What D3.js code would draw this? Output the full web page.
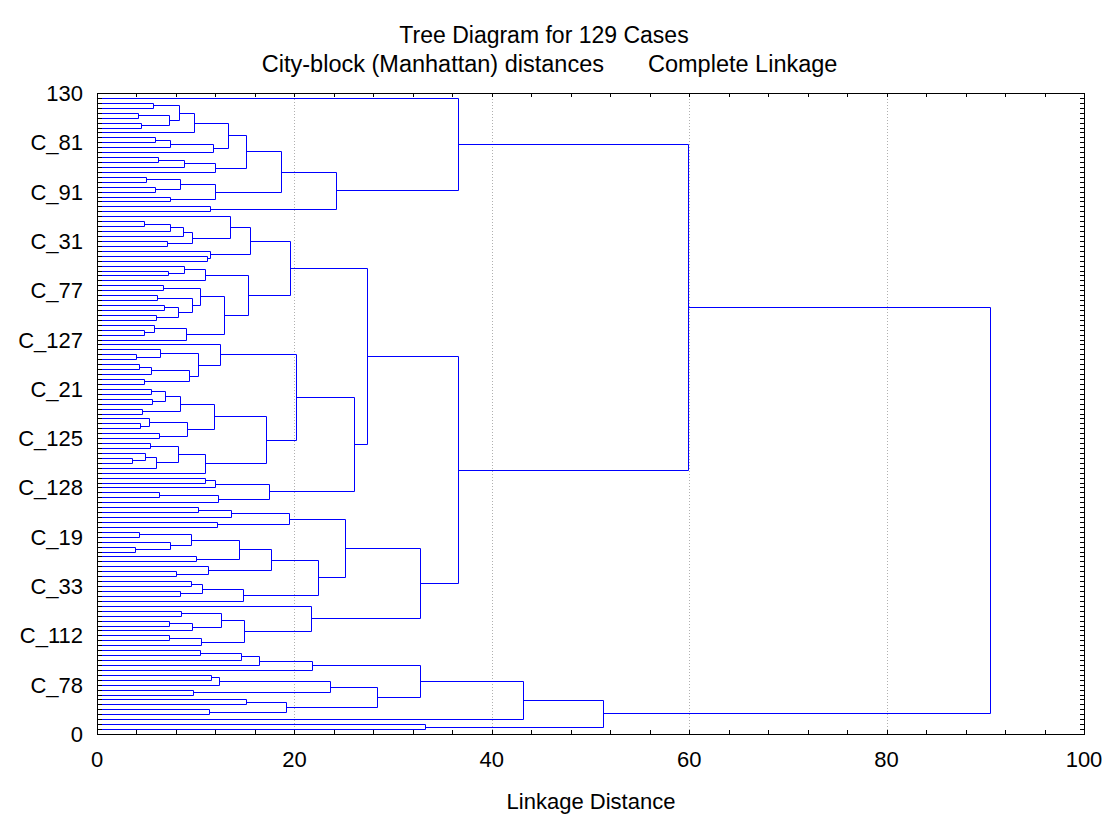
<!DOCTYPE html>
<html><head><meta charset="utf-8">
<script src="https://cdn.jsdelivr.net/npm/d3@7"></script>
<style>
body{margin:0;background:#fff}
text{font-family:Arial,"Liberation Sans",sans-serif;fill:#000}
</style>
</head><body>
<svg id="chart" width="1105" height="817"></svg>
<script>
// ---------- texts ----------
const titleText = "Tree Diagram for 129 Cases";
const subtitleLeft = "City-block (Manhattan) distances";
const subtitleRight = "Complete Linkage";
const xAxisTitle = "Linkage Distance";

// ---------- axes ----------
const xTickValues = [0, 20, 40, 60, 80, 100];
const yTickValues = [0, 10, 20, 30, 40, 50, 60, 70, 80, 90, 100, 110, 120, 130];
const yTickLabels = ["0", "C_78", "C_112", "C_33", "C_19", "C_128", "C_125", "C_21",
                     "C_127", "C_77", "C_31", "C_91", "C_81", "130"];

// ---------- dendrogram (linkage distances) ----------
// node = [linkage distance, upper branch, lower branch]; 0 = a single case
const clusterTop = [36.6, 0, [24.24,
  [18.6,
    [15.09,
      [13.27,
        [9.86, [8.34, [5.67, 0, 0], [7.26, [4.15, 0, 0], [4.49, 0, 0]]], 0],
        [11.75, [7.42, [5.84, 0, 0], 0], 0]],
      [11.98, [8.77, [6.18, 0, 0], 0], 0]],
    [11.91, [8.44, [4.99, 0, 0], [5.9, 0, 0]], [7.36, 0, 0]]],
  [11.41, 0, 0]]];

const clusterB1 = [15.46,
  [13.43, 0, [9.58, [8.71, [7.42, [4.72, 0, 0], 0], 0], [7.09, 0, 0]]],
  [11.48, 0, [11.1, 0, 0]]];
const clusterB2 = [15.26,
  [10.97, [8.81, 0, [7.15, 0, 0]], 0],
  [12.89,
    [10.4, [6.65, 0, 0], [9.58, [6.07, 0, 0], [8.2, [6.75, 0, 0], [6.01, 0, 0]]]],
    [9.04, [5.74, 0, [4.79, 0, 0]], 0]]];

const clusterC1 = [12.49, 0, [10.23, [6.34, 0, [3.95, 0, 0]],
  [9.28, [5.47, [4.28, 0, 0], 0], [4.79, 0, 0]]]];
const clusterC2 = [11.85,
  [8.37, [6.92, [5.43, 0, 0], [5.53, 0, 0]], [4.59, 0, 0]],
  [9.11, [5.23, 0, [4.39, 0, 0]], [6.24, 0, 0]]];
const clusterC3 = [10.9, [8.2, [5.4, 0, 0], [5.97, [4.82, 0, [3.54, 0, 0]], 0]], 0];
const clusterC4 = [17.42, [11.98, [10.9, 0, 0], 0], [12.25, [6.31, 0, 0], 0]];

const clusterD1 = [19.44, [13.57, [10.23, 0, 0], 0], [12.15, 0, 0]];
const clusterD2 = [17.59,
  [14.35, [9.55, [4.22, 0, 0], [7.42, 0, [3.81, 0, 0]]], [10.06, 0, 0]],
  [11.24, 0, [8.0, 0, 0]]];
const clusterD3 = [14.75, [10.63, [9.55, 0, 0], [8.44, 0, 0]], 0];
const clusterD4 = [21.71, 0, [14.85,
  [12.59, [8.54, 0, 0], [9.62, [7.26, 0, 0], 0]],
  [10.56, [7.26, 0, 0], 0]]];

const clusterE1 = [21.77, [16.37, [14.58, [10.4, 0, 0], 0], 0], 0];
const clusterE2 = [28.39,
  [23.56, [12.32, [11.58, 0, 0], 0], [9.72, 0, 0]],
  [19.11, [15.05, 0, 0], [11.31, 0, 0]]];

// upper level merges
const mergeB = [19.58, clusterB1, clusterB2];
const mergeC = [25.99, [20.19, clusterC1, [17.15, clusterC2, clusterC3]], clusterC4];
const mergeD = [32.75, [25.08, clusterD1, [22.35, clusterD2, clusterD3]], clusterD4];
const mergeA = [59.9, clusterTop, [36.6, [27.38, mergeB, mergeC], mergeD]];
const mergeE = [51.28, [43.18, [32.75, clusterE1, clusterE2], 0], [33.25, 0, 0]];
const treeRoot = [90.48, mergeA, mergeE];

// ---------- layout ----------
const svg = d3.select("#chart");
const plot = {left: 97, right: 1084, top: 93, bottom: 734};
const x = d3.scaleLinear().domain([0, 100]).range([plot.left, plot.right]);
const y = d3.scaleLinear().domain([0, 130]).range([plot.bottom, plot.top]);

// grid lines
svg.append("g").selectAll("line").data(xTickValues.filter(v => v > 0 && v < 100)).join("line")
  .attr("x1", d => Math.round(x(d)) + 0.5).attr("x2", d => Math.round(x(d)) + 0.5)
  .attr("y1", plot.top).attr("y2", plot.bottom)
  .attr("stroke", "#b0b0b0").attr("stroke-dasharray", "1,2").attr("stroke-width", 1);

// hierarchy
const root = d3.hierarchy(treeRoot, d => Array.isArray(d) ? d.slice(1) : null);
const leaves = root.leaves();
const nLeaves = leaves.length;
leaves.forEach((l, i) => { l.pos = nLeaves - i; });
root.eachAfter(n => {
  n.h = Array.isArray(n.data) ? n.data[0] : 0;
  if (n.children) n.pos = d3.mean(n.children, c => c.pos);
});

const px = v => Math.round(x(v)) + 0.5;
const py = v => Math.round(y(v)) + 0.5;
let path = "";
root.each(n => {
  if (!n.children) return;
  const [a, b] = n.children;
  path += `M${px(n.h)},${py(a.pos)}V${py(b.pos)}`;
  n.children.forEach(c => {
    path += `M${Math.round(x(c.h)) + (c.children ? 0.5 : 0)},${py(c.pos)}H${px(n.h)}`;
  });
});
svg.append("path").attr("d", path).attr("fill", "none")
  .attr("stroke", "#0000ff").attr("stroke-width", 1);

// frame
svg.append("rect").attr("x", plot.left + 0.5).attr("y", plot.top + 0.5)
  .attr("width", plot.right - plot.left).attr("height", plot.bottom - plot.top)
  .attr("fill", "none").attr("stroke", "#000");

// ticks
const tk = svg.append("g").attr("stroke", "#000").attr("stroke-width", 1);
d3.range(0, 131, 1).forEach(v => {
  const yy = py(v);
  tk.append("line").attr("x1", plot.left).attr("x2", plot.left + 5).attr("y1", yy).attr("y2", yy);
  tk.append("line").attr("x1", plot.right + 1).attr("x2", plot.right - 4).attr("y1", yy).attr("y2", yy);
});
d3.range(0, 101, 4).forEach(v => {
  const xx = px(v);
  tk.append("line").attr("x1", xx).attr("x2", xx).attr("y1", plot.bottom).attr("y2", plot.bottom - 4);
  tk.append("line").attr("x1", xx).attr("x2", xx).attr("y1", plot.top).attr("y2", plot.top + 4);
});

// tick labels
svg.append("g").selectAll("text").data(xTickValues).join("text")
  .attr("x", d => x(d)).attr("y", 767).attr("text-anchor", "middle")
  .attr("font-size", 22).text(d => d);
svg.append("g").selectAll("text").data(yTickValues).join("text")
  .attr("x", 83).attr("y", d => y(d) + 8).attr("text-anchor", "end")
  .attr("font-size", 22).text((d, i) => yTickLabels[i]);

// titles
svg.append("text").attr("x", 544).attr("y", 43).attr("text-anchor", "middle")
  .attr("font-size", 23).text(titleText);
svg.append("text").attr("x", 604).attr("y", 72).attr("text-anchor", "end")
  .attr("font-size", 23.5).text(subtitleLeft);
svg.append("text").attr("x", 648).attr("y", 72).attr("text-anchor", "start")
  .attr("font-size", 23.5).text(subtitleRight);
svg.append("text").attr("x", 591).attr("y", 809).attr("text-anchor", "middle")
  .attr("font-size", 22).text(xAxisTitle);
</script>
</body></html>
